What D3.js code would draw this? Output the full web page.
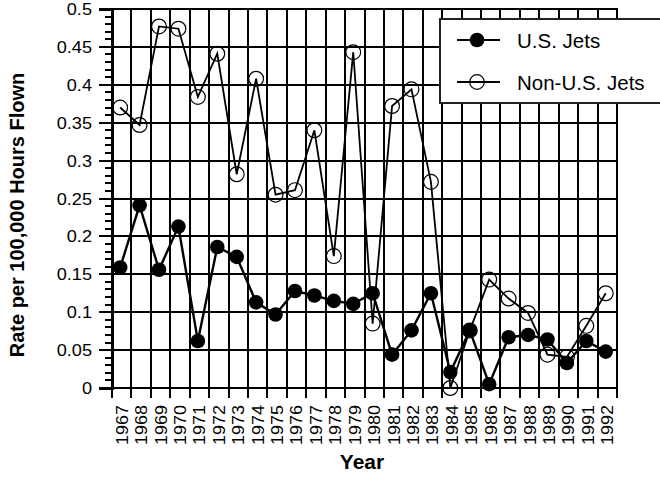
<!DOCTYPE html>
<html>
<head>
<meta charset="utf-8">
<script src="https://cdn.jsdelivr.net/npm/d3@7"></script>
<style>
  html, body { margin: 0; padding: 0; background: #fff; }
  svg { display: block; }
  text { font-family: "Liberation Sans", Arial, Helvetica, sans-serif; fill: #000; }
</style>
</head>
<body>
<svg id="chart" width="660" height="485"></svg>
<script>
const years = ["1967","1968","1969","1970","1971","1972","1973","1974","1975","1976","1977","1978","1979","1980","1981","1982","1983","1984","1985","1986","1987","1988","1989","1990","1991","1992"];
const usJets = [0.159,0.241,0.156,0.213,0.062,0.186,0.173,0.113,0.097,0.128,0.122,0.115,0.111,0.125,0.044,0.076,0.125,0.021,0.076,0.005,0.067,0.070,0.064,0.033,0.062,0.048];
const nonUsJets = [0.370,0.347,0.477,0.474,0.384,0.441,0.282,0.408,0.255,0.261,0.340,0.174,0.443,0.085,0.372,0.394,0.272,0.000,0.076,0.143,0.118,0.099,0.044,0.041,0.082,0.125];
const yTicks = [0,0.05,0.1,0.15,0.2,0.25,0.3,0.35,0.4,0.45,0.5];
const yTickLabels = ["0","0.05","0.1","0.15","0.2","0.25","0.3","0.35","0.4","0.45","0.5"];
const yMinorTicks = d3.range(1, 50).filter(i => i % 5 !== 0).map(i => i / 100);
const seriesNames = ["U.S. Jets", "Non-U.S. Jets"];
const yTitle = "Rate per 100,000 Hours Flown";
const xTitle = "Year";

const svg = d3.select("#chart");
const L = 112, R = 617, T = 9, B = 388;

const x = d3.scaleBand().domain(years).range([L, R]).paddingInner(0).paddingOuter(0);
const y = d3.scaleLinear().domain([0, 0.5]).range([B, T]);
const px = d => x(d) + x.bandwidth() * 0.42;

const g = svg.append("g").attr("shape-rendering", "crispEdges");

// horizontal grid lines
g.selectAll("line.hgrid").data(yTicks).join("line")
  .attr("x1", L).attr("x2", R)
  .attr("y1", d => Math.round(y(d))).attr("y2", d => Math.round(y(d)))
  .attr("stroke", "#000").attr("stroke-width", 2);

// vertical grid lines at band edges, extending below axis as ticks
const edges = years.map(d => x(d)).concat([R]);
g.selectAll("line.vgrid").data(edges).join("line")
  .attr("x1", d => Math.round(d)).attr("x2", d => Math.round(d))
  .attr("y1", T - 1).attr("y2", B + 10)
  .attr("stroke", "#000").attr("stroke-width", 2);

// y axis (major ticks with labels)
const yAxis = d3.axisLeft(y).tickValues(yTicks)
  .tickFormat((d, i) => yTickLabels[i]).tickSize(13).tickPadding(0);
const ya = svg.append("g").attr("transform", `translate(${L},0)`).call(yAxis);
ya.attr("shape-rendering", "crispEdges");
ya.select(".domain").attr("stroke", "#000").attr("stroke-width", 2);
ya.selectAll(".tick").attr("transform", d => `translate(0,${Math.round(y(d))})`);
ya.selectAll(".tick line").attr("stroke", "#000").attr("stroke-width", 2);
ya.selectAll(".tick text")
  .attr("x", 0).attr("dy", "0.35em")
  .attr("text-anchor", "end")
  .attr("transform", "translate(-20,0) scale(1.1,1)")
  .style("font-size", "16.5px")
  .style("font-family", "'Liberation Sans', Arial, sans-serif");

// minor ticks
svg.append("g").attr("shape-rendering", "crispEdges")
  .selectAll("line").data(yMinorTicks).join("line")
  .attr("x1", L - 7).attr("x2", L)
  .attr("y1", d => Math.round(y(d))).attr("y2", d => Math.round(y(d)))
  .attr("stroke", "#000").attr("stroke-width", 2);

// x axis labels
const xAxis = d3.axisBottom(x).tickSize(0).tickPadding(0);
const xa = svg.append("g").attr("transform", `translate(0,${B})`).call(xAxis);
xa.select(".domain").remove();
xa.selectAll(".tick").attr("transform", d => `translate(${x(d) + x.bandwidth() / 2},0)`);
xa.selectAll(".tick text")
  .attr("x", 0).attr("y", 0).attr("dy", "0.35em")
  .attr("text-anchor", "end")
  .attr("transform", "translate(0,17) rotate(-90) scale(1.06,1)")
  .style("font-size", "17px")
  .style("font-family", "'Liberation Sans', Arial, sans-serif");

// axis titles
svg.append("text")
  .attr("transform", "translate(24,215) rotate(-90)")
  .attr("text-anchor", "middle")
  .style("font-size", "20px").style("font-weight", "bold")
  .text(yTitle);
svg.append("text")
  .attr("transform", "translate(362,469) scale(1.05,1)")
  .attr("text-anchor", "middle")
  .style("font-size", "20px").style("font-weight", "bold")
  .text(xTitle);

// series
const usData = years.map((yr, i) => ({ yr, v: usJets[i] }));
const nonData = years.map((yr, i) => ({ yr, v: nonUsJets[i] }));
const line = d3.line().x(d => px(d.yr)).y(d => y(d.v));

svg.append("path").datum(usData).attr("d", line)
  .attr("fill", "none").attr("stroke", "#000").attr("stroke-width", 2.4);
svg.append("g").selectAll("circle").data(usData).join("circle")
  .attr("cx", d => px(d.yr)).attr("cy", d => y(d.v)).attr("r", 7.3)
  .attr("fill", "#000");

svg.append("path").datum(nonData).attr("d", line)
  .attr("fill", "none").attr("stroke", "#000").attr("stroke-width", 1.8);
svg.append("g").selectAll("circle").data(nonData).join("circle")
  .attr("cx", d => px(d.yr)).attr("cy", d => y(d.v)).attr("r", 7.4)
  .attr("fill", "none").attr("stroke", "#000").attr("stroke-width", 1.2);

// legend
const lg = svg.append("g");
lg.append("rect").attr("x", 440).attr("y", 19).attr("width", 240).attr("height", 84)
  .attr("fill", "#fff").attr("stroke", "#222").attr("stroke-width", 2)
  .attr("shape-rendering", "crispEdges");
const legRows = [{ name: seriesNames[0], cy: 40, filled: true }, { name: seriesNames[1], cy: 82, filled: false }];
legRows.forEach(r => {
  lg.append("line").attr("x1", 457).attr("x2", 500).attr("y1", r.cy).attr("y2", r.cy)
    .attr("stroke", "#000").attr("stroke-width", 2);
  lg.append("circle").attr("cx", 477).attr("cy", r.cy).attr("r", 7.3)
    .attr("fill", r.filled ? "#000" : "none").attr("stroke", "#000").attr("stroke-width", r.filled ? 0 : 1.2);
  lg.append("text").attr("x", 517).attr("y", r.cy + 7.5)
    .style("font-size", "20.5px").text(r.name);
});
</script>
</body>
</html>
